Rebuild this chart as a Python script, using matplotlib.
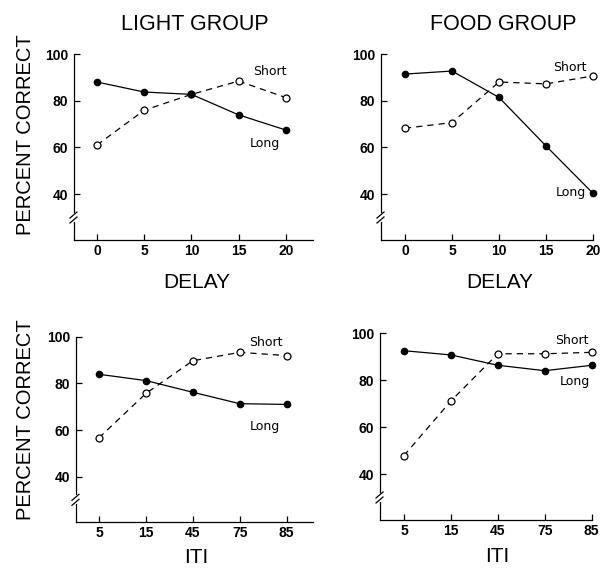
import matplotlib
matplotlib.use("Agg")
import matplotlib.pyplot as plt

# data (percent correct)
delay = [0, 5, 10, 15, 20]
light_delay_long = [88.0, 83.7, 82.7, 73.9, 67.4]
light_delay_short = [61.0, 75.9, 82.7, 88.4, 81.3]
food_delay_long = [91.4, 92.7, 81.4, 60.6, 40.3]
food_delay_short = [68.2, 70.6, 88.0, 87.2, 90.6]

iti_labels = ["5", "15", "45", "75", "85"]
light_iti_long = [83.9, 81.2, 76.2, 71.3, 71.0]
light_iti_short = [56.7, 75.7, 89.7, 93.3, 91.9]
food_iti_long = [92.6, 90.8, 86.4, 84.1, 86.4]
food_iti_short = [48.0, 71.2, 91.3, 91.3, 91.9]

yticks = [40, 60, 80, 100]

W, H = 600, 569
fig = plt.figure(figsize=(W / 100, H / 100), dpi=100)


def px_axes(left, right, top, bottom):
    # pixel box -> figure fraction
    return fig.add_axes([left / W, 1 - bottom / H, (right - left) / W, (bottom - top) / H])


def style_axes(ax, xlim, ylim):
    ax.set_xlim(*xlim)
    ax.set_ylim(*ylim)
    for s in ["top", "right", "left"]:
        ax.spines[s].set_visible(False)
    ax.spines["bottom"].set_linewidth(0.9)
    ax.set_yticks(yticks)
    ax.tick_params(axis="y", direction="in", length=4, width=0.9, pad=4,
                   labelsize=10)
    ax.tick_params(axis="x", direction="in", length=4, width=0.9, pad=3,
                   labelsize=10)
    # left axis drawn by hand, with break marks
    h = ax.bbox.height
    w = ax.bbox.width
    g_lo, g_hi = 18 / h, 28 / h
    kw = dict(transform=ax.transAxes, color="black", lw=0.9, clip_on=False)
    ax.plot([0, 0], [g_hi, 1], **kw)
    ax.plot([0, 0], [0, g_lo], **kw)
    for dy in (0, 5):
        ax.plot([-4 / w, 3 / w], [g_lo + (dy - 1) / h, g_lo + (dy + 5) / h], **kw)


def draw_series(ax, x, long_vals, short_vals):
    ax.plot(x, short_vals, color="black", lw=0.9, linestyle=(0, (5, 4)),
            marker="o", ms=5, mfc="white", mec="black", mew=0.9, clip_on=False, zorder=3)
    ax.plot(x, long_vals, color="black", lw=0.9, linestyle="-",
            marker="o", ms=4.5, mfc="black", mec="black", clip_on=False, zorder=4)


lab_kw = dict(fontsize=9, family="DejaVu Sans", ha="center", va="center")

# top-left: light group, delay
ax1 = px_axes(74, 313, 54, 240)
style_axes(ax1, (-2.43, 22.86), (20.3, 100))
draw_series(ax1, delay, light_delay_long, light_delay_short)
ax1.set_xticks(delay)
ax1.text(18.3, 92.3, "Short", **lab_kw)
ax1.text(17.8, 61.5, "Long", **lab_kw)

# top-right: food group, delay
ax2 = px_axes(381, 593, 54, 240)
style_axes(ax2, (-2.55, 20.0), (20.3, 100))
draw_series(ax2, delay, food_delay_long, food_delay_short)
ax2.set_xticks(delay)
ax2.text(17.55, 94.4, "Short", **lab_kw)
ax2.text(17.6, 40.5, "Long", **lab_kw)

# bottom-left: light group, ITI
iti_x = list(range(len(iti_labels)))
ax3 = px_axes(76, 313, 336.7, 522.3)
style_axes(ax3, (-0.49, 4.56), (20.5, 100))
draw_series(ax3, iti_x, light_iti_long, light_iti_short)
ax3.set_xticks(iti_x, iti_labels)
ax3.text(3.56, 97.7, "Short", **lab_kw)
ax3.text(3.54, 61.7, "Long", **lab_kw)

# bottom-right: food group, ITI
ax4 = px_axes(380, 591.7, 333.3, 520)
style_axes(ax4, (-0.51, 4.0), (20.6, 100))
draw_series(ax4, iti_x, food_iti_long, food_iti_short)
ax4.set_xticks(iti_x, iti_labels)
ax4.text(3.58, 97.1, "Short", **lab_kw)
ax4.text(3.65, 79.5, "Long", **lab_kw)

for ax in (ax1, ax2, ax3, ax4):
    for lab in ax.get_xticklabels() + ax.get_yticklabels():
        lab.set_fontweight("bold")
        lab.set_family("Liberation Sans")

big = dict(family="Liberation Sans", color="black")
fig.text(195 / W, 1 - 25 / H, "LIGHT GROUP", fontsize=15.5, ha="center", va="center", **big)
fig.text(503 / W, 1 - 25 / H, "FOOD GROUP", fontsize=15.5, ha="center", va="center", **big)
fig.text(197 / W, 1 - 282 / H, "DELAY", fontsize=15, ha="center", va="center", **big)
fig.text(500 / W, 1 - 282 / H, "DELAY", fontsize=15, ha="center", va="center", **big)
fig.text(196 / W, 2 / H, "ITI", fontsize=15, ha="center", va="bottom", **big)
fig.text(497 / W, 3 / H, "ITI", fontsize=15, ha="center", va="bottom", **big)

fig.text(26 / W, 1 - 135 / H, "PERCENT CORRECT", fontsize=14.5, rotation=90,
         ha="center", va="center", **big)
fig.text(26 / W, 1 - 420 / H, "PERCENT CORRECT", fontsize=14.5, rotation=90,
         ha="center", va="center", **big)

fig.savefig("out.png", dpi=100)
